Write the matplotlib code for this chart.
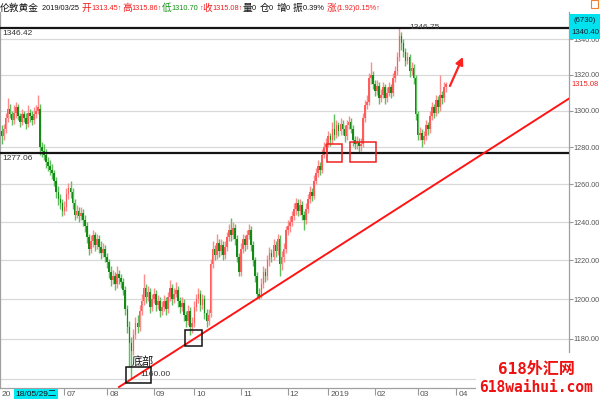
import matplotlib
matplotlib.use("Agg")
import matplotlib.pyplot as plt
from matplotlib.patches import Rectangle
from matplotlib.ticker import FixedLocator, NullLocator, FormatStrFormatter
import numpy as np

# ── Data (daily candles, London gold) ──────────────────────────────────────
opens = [
    1289, 1286, 1290, 1296, 1301, 1298, 1295, 1299, 1302, 1297,
    1294, 1298, 1296, 1293, 1299, 1297, 1295, 1298, 1300, 1301,
    1280, 1278, 1276, 1272, 1270, 1268, 1266, 1262, 1256, 1252,
    1250, 1246, 1248, 1255, 1258, 1256, 1250, 1244, 1246, 1243,
    1245, 1241, 1238, 1232, 1226, 1230, 1233, 1228, 1231, 1227,
    1224, 1226, 1222, 1219, 1214, 1210, 1212, 1208, 1213, 1211,
    1209, 1205, 1195, 1186, 1178, 1174, 1182, 1188, 1186, 1194,
    1199, 1206, 1201, 1204, 1196, 1200, 1203, 1197, 1199, 1194,
    1196, 1199, 1195, 1201, 1206, 1200, 1203, 1205, 1199, 1196,
    1198, 1192, 1189, 1194, 1186, 1188, 1196, 1200, 1203, 1197,
    1200, 1193, 1189, 1193, 1218, 1226, 1223, 1229, 1225, 1228,
    1223, 1227, 1232, 1236, 1233, 1237, 1231, 1222, 1214, 1226,
    1231, 1228, 1233, 1236, 1228, 1220, 1212, 1203, 1201, 1208,
    1214, 1212, 1220, 1224, 1222, 1228, 1225, 1231, 1218, 1222,
    1226, 1236, 1238, 1240, 1243, 1247, 1250, 1246, 1249, 1244,
    1241, 1247, 1252, 1256, 1254, 1262, 1266, 1270, 1268, 1276,
    1280, 1282, 1286, 1284, 1290, 1287, 1292, 1289, 1293, 1290,
    1286, 1292, 1294, 1290, 1284, 1282, 1283, 1281, 1282, 1296,
    1303, 1305, 1318, 1320, 1315, 1311, 1314, 1307, 1309, 1313,
    1307, 1310, 1313, 1310, 1318, 1322, 1330, 1342, 1338, 1333,
    1328, 1330, 1322, 1324, 1318, 1298, 1287, 1288, 1284, 1286,
    1292, 1290, 1297, 1302, 1299, 1306, 1302, 1309, 1307, 1313.45,
]
highs = [
    1292, 1293, 1299, 1307, 1304, 1300, 1303, 1305, 1304, 1299,
    1301, 1300, 1299, 1303, 1301, 1300, 1302, 1303, 1309, 1304,
    1283, 1282, 1279, 1275, 1273, 1271, 1268, 1264, 1259, 1255,
    1252, 1251, 1258, 1261, 1262, 1258, 1252, 1249, 1248, 1248,
    1247, 1244, 1240, 1234, 1233, 1236, 1235, 1234, 1233, 1230,
    1229, 1228, 1224, 1221, 1217, 1215, 1214, 1217, 1215, 1213,
    1211, 1207, 1197, 1189, 1181, 1185, 1191, 1192, 1197, 1203,
    1213, 1208, 1207, 1206, 1203, 1206, 1205, 1202, 1201, 1199,
    1202, 1201, 1204, 1210, 1208, 1206, 1209, 1207, 1201, 1201,
    1200, 1194, 1197, 1196, 1191, 1199, 1203, 1206, 1205, 1203,
    1202, 1195, 1195, 1221, 1230, 1228, 1234, 1231, 1231, 1230,
    1230, 1235, 1239, 1242, 1240, 1239, 1233, 1224, 1229, 1234,
    1233, 1236, 1239, 1238, 1230, 1222, 1214, 1206, 1211, 1217,
    1216, 1223, 1227, 1226, 1231, 1230, 1234, 1233, 1225, 1229,
    1238, 1241, 1243, 1246, 1250, 1253, 1252, 1252, 1251, 1246,
    1250, 1255, 1259, 1258, 1265, 1269, 1273, 1272, 1279, 1283,
    1285, 1289, 1288, 1294, 1298, 1295, 1294, 1296, 1295, 1292,
    1295, 1297, 1296, 1292, 1286, 1286, 1285, 1285, 1299, 1306,
    1309, 1321, 1327, 1322, 1317, 1317, 1316, 1312, 1316, 1315,
    1313, 1316, 1315, 1321, 1325, 1333, 1346.75, 1344, 1340, 1335,
    1333, 1332, 1327, 1326, 1320, 1300, 1291, 1290, 1289, 1295,
    1294, 1300, 1305, 1304, 1309, 1308, 1320, 1311, 1316, 1315.86,
]
lows = [
    1282, 1284, 1288, 1294, 1296, 1292, 1293, 1296, 1295, 1291,
    1292, 1294, 1290, 1291, 1294, 1292, 1293, 1296, 1298, 1276,
    1275, 1273, 1269, 1267, 1265, 1263, 1259, 1253, 1249, 1247,
    1243, 1244, 1246, 1252, 1253, 1247, 1241, 1242, 1240, 1241,
    1238, 1235, 1229, 1223, 1224, 1227, 1225, 1226, 1224, 1221,
    1222, 1219, 1216, 1211, 1207, 1208, 1205, 1206, 1208, 1206,
    1202, 1192, 1183, 1166, 1160, 1172, 1180, 1183, 1184, 1192,
    1197, 1198, 1199, 1193, 1194, 1198, 1194, 1195, 1191, 1192,
    1194, 1192, 1193, 1199, 1197, 1198, 1201, 1196, 1193, 1194,
    1189, 1186, 1187, 1182, 1183, 1186, 1194, 1198, 1194, 1195,
    1190, 1186, 1187, 1191, 1216, 1220, 1221, 1222, 1223, 1220,
    1221, 1225, 1230, 1230, 1231, 1228, 1219, 1212, 1212, 1224,
    1225, 1226, 1231, 1225, 1217, 1209, 1200.5, 1200, 1200.5, 1206,
    1209, 1210, 1217, 1219, 1220, 1222, 1223, 1212, 1215, 1219,
    1224, 1233, 1235, 1238, 1241, 1244, 1243, 1244, 1241, 1236,
    1239, 1245, 1250, 1251, 1252, 1260, 1264, 1265, 1266, 1274,
    1278, 1280, 1281, 1282, 1284, 1285, 1286, 1287, 1287, 1283,
    1284, 1290, 1288, 1281, 1279, 1279, 1277, 1278, 1280, 1294,
    1301, 1303, 1315, 1312, 1308, 1309, 1304, 1305, 1307, 1304,
    1305, 1308, 1307, 1308, 1316, 1320, 1328, 1334, 1330, 1325,
    1326, 1319, 1320, 1315, 1295, 1284, 1284, 1280, 1282, 1284,
    1287, 1288, 1295, 1296, 1297, 1299, 1300, 1304, 1305, 1310.70,
]
closes = [
    1286, 1290, 1296, 1301, 1298, 1295, 1299, 1302, 1297, 1294,
    1298, 1296, 1293, 1299, 1297, 1295, 1298, 1300, 1302, 1280,
    1278, 1276, 1272, 1270, 1268, 1266, 1262, 1256, 1252, 1250,
    1246, 1248, 1255, 1258, 1256, 1250, 1244, 1246, 1243, 1245,
    1241, 1238, 1232, 1226, 1230, 1233, 1228, 1231, 1227, 1224,
    1226, 1222, 1219, 1214, 1210, 1212, 1208, 1213, 1211, 1209,
    1205, 1195, 1186, 1178, 1174, 1182, 1188, 1186, 1194, 1199,
    1206, 1201, 1204, 1196, 1200, 1203, 1197, 1199, 1194, 1196,
    1199, 1195, 1201, 1206, 1200, 1203, 1205, 1199, 1196, 1198,
    1192, 1189, 1194, 1186, 1188, 1196, 1200, 1203, 1197, 1200,
    1193, 1189, 1192, 1218, 1226, 1223, 1229, 1225, 1228, 1223,
    1227, 1232, 1236, 1233, 1237, 1231, 1222, 1214, 1226, 1231,
    1228, 1233, 1236, 1228, 1220, 1212, 1203, 1201, 1208, 1214,
    1212, 1220, 1224, 1222, 1228, 1225, 1231, 1218, 1222, 1226,
    1236, 1238, 1240, 1243, 1247, 1250, 1246, 1249, 1244, 1241,
    1247, 1252, 1256, 1254, 1262, 1266, 1270, 1268, 1276, 1280,
    1282, 1286, 1284, 1290, 1287, 1292, 1289, 1293, 1290, 1286,
    1292, 1294, 1290, 1284, 1282, 1283, 1281, 1282, 1296, 1303,
    1305, 1318, 1320, 1315, 1311, 1314, 1307, 1309, 1313, 1307,
    1310, 1313, 1310, 1318, 1322, 1330, 1342, 1338, 1333, 1328,
    1330, 1322, 1324, 1318, 1298, 1287, 1288, 1284, 1286, 1292,
    1290, 1297, 1302, 1299, 1306, 1302, 1309, 1307, 1313, 1315.08,
]

# month ticks (candle index of first bar of the month) and their labels
month_idx = [31, 52, 75, 95, 118, 141, 161, 184, 205, 224]
month_lbl = ["07", "08", "09", "10", "11", "12", "2019", "02", "03", "04"]
price_ticks = [1160, 1180, 1200, 1220, 1240, 1260, 1280, 1300, 1320, 1340]

# analyst drawings
levels = [1346.42, 1277.06]
peak_idx, peak_price = 208.4, 1346.75
trend_idx = [57.9, 280.0]
trend_price = [1156.2, 1307.1]
black_boxes = [(61.2, 73.5, 1158.1, 1166.0), (90.4, 98.6, 1176.5, 1184.5)]
red_boxes = [(160.3, 167.7, 1272.1, 1281.8), (171.7, 184.5, 1272.1, 1282.9)]
arrow_from = (220.9, 1313.8)
arrow_to = (227.3, 1330.1)

# header quote line: (text, colour key)
header = [
    ("伦敦黄金 ", "k"), ("2019/03/25 ", "k"),
    ("开1313.45↑", "r"), ("高1315.86↑", "r"),
    ("低1310.70", "g"), ("↑", "r"), ("收1315.08↑", "r"),
    ("量0 ", "k"), ("仓0 ", "k"), ("增0 ", "k"), ("振0.39% ", "k"),
    ("涨(1.92)0.15%↑", "r"),
]

# ── Figure ─────────────────────────────────────────────────────────────────
W, H = 600, 400
fig = plt.figure(figsize=(6, 4), dpi=100)
fig.patch.set_facecolor("white")

def fx(px):
    return px / W

def fy(py):
    return 1 - py / H

ax = fig.add_axes([0, fy(388), fx(569), fy(12) - fy(388)])
ax.set_yscale("log")
ax.set_ylim(1155.7, 1355.7)
ax.set_xlim(-0.74, 279.56)

NUM = ["Liberation Sans", "DejaVu Sans", "Noto Sans CJK SC"]
CJK = ["Noto Sans CJK SC", "DejaVu Sans"]
GREY = "#555555"
RED = "#f01e1e"
COLS = {"k": "#111111", "r": RED, "g": "#159015"}

o = np.array(opens, float)
h = np.array(highs, float)
l = np.array(lows, float)
c = np.array(closes, float)
x = np.arange(len(c))
up = c >= o
body_col = np.where(up, "#ff5c5c", "#168a16")
wick_col = np.where(up, "#ff8c8c", "#5fbf5f")

ax.vlines(x, l, h, colors=wick_col, lw=1.0, zorder=2)
ax.bar(x, np.maximum(np.abs(c - o), 0.6), bottom=np.minimum(o, c),
       width=0.82, color=body_col, linewidth=0, zorder=3)

# grid + axes styling
ax.yaxis.set_major_locator(FixedLocator(price_ticks))
ax.yaxis.set_minor_locator(NullLocator())
ax.yaxis.set_major_formatter(FormatStrFormatter("%.2f"))
ax.yaxis.tick_right()
ax.tick_params(axis="y", direction="out", length=3, width=0.8, color="#999999",
               labelsize=5.2, labelcolor=GREY, pad=0.5)
for t in ax.get_yticklabels():
    t.set_family(NUM)
ax.grid(axis="y", color="#d9d9d9", lw=0.9)
ax.set_axisbelow(True)

ax.set_xticks(month_idx)
ax.set_xticklabels([])
ax.tick_params(axis="x", direction="out", length=5, width=0.8, color="#999999")
for xi, lab in zip(month_idx, month_lbl):
    ax.annotate(lab, xy=(xi, 0), xycoords=("data", "axes fraction"),
                xytext=(1.5, -2), textcoords="offset points", ha="left", va="top",
                fontsize=6, color=GREY, family=NUM)
ax.annotate("20", xy=(0, 0), xycoords="axes fraction", xytext=(1.5, -2),
            textcoords="offset points", ha="left", va="top",
            fontsize=6, color=GREY, family=NUM)

for side in ["left", "bottom", "right"]:
    ax.spines[side].set_color("#a0a0a0")
    ax.spines[side].set_linewidth(0.9)
ax.spines["top"].set_visible(False)

# horizontal levels
for lv in levels:
    ax.axhline(lv, color="#151515", lw=1.6, zorder=4)
    ax.annotate(f"{lv:.2f}", xy=(0, lv), xycoords=("axes fraction", "data"),
                xytext=(1.5, -1.5), textcoords="offset points", ha="left", va="top",
                fontsize=6, color="#333333", family=NUM)
ax.text(peak_idx, peak_price, f"{peak_price:.2f}", ha="center", va="center",
        fontsize=6, color="#444444", family=NUM, zorder=5)

# trend line, boxes, arrow
ax.plot(trend_idx, trend_price, color="#ff1414", lw=1.4, zorder=5)
for x0, x1, y0, y1 in black_boxes:
    ax.add_patch(Rectangle((x0, y0), x1 - x0, y1 - y0, fill=False,
                           ec="#111111", lw=1.1, zorder=6))
for x0, x1, y0, y1 in red_boxes:
    ax.add_patch(Rectangle((x0, y0), x1 - x0, y1 - y0, fill=False,
                           ec="#f02020", lw=1.1, zorder=6))
ax.annotate("", xy=arrow_to, xytext=arrow_from,
            arrowprops=dict(arrowstyle="-|>", color="#ff2020", lw=1.6,
                            mutation_scale=11, shrinkA=0, shrinkB=0), zorder=6)

ax.text(69.7, 1169.0, "底部", ha="center", va="center", fontsize=8,
        family=CJK, color="#111111", zorder=7)
ax.text(75.6, 1162.1, "1160.00", ha="center", va="center", fontsize=6,
        family=NUM, color="#333333", zorder=7)

# ── right side labels ──────────────────────────────────────────────────────
fig.patches.append(Rectangle((fx(570), fy(39)), fx(600) - fx(570), fy(14) - fy(39),
                             transform=fig.transFigure, fc="#00e3ef", ec="none", zorder=10))
fig.text(fx(585), fy(20), "(6730)", ha="center", va="center", fontsize=5.6,
         family=NUM, color="#102030", zorder=11)
fig.text(fx(585), fy(33), "1340.40", ha="center", va="center", fontsize=5.6,
         family=NUM, color="#102030", zorder=11)
fig.text(fx(571), fy(84), f"{closes[-1]:.2f}", ha="left", va="center", fontsize=5.4,
         family=NUM, color=RED, zorder=11)
fig.patches.append(Rectangle((fx(591), fy(8)), fx(7), fy(0) - fy(8),
                             transform=fig.transFigure, fill=False, ec="#f08030",
                             lw=0.8, zorder=10))

# cursor date label
fig.text(fx(15), fy(394), "18/05/29二", ha="left", va="center", fontsize=6,
         family=NUM, color="#101010", zorder=11,
         bbox=dict(boxstyle="square,pad=0.15", fc="#00e8f4", ec="none"))

# ── header ─────────────────────────────────────────────────────────────────
renderer = fig.canvas.get_renderer()

def is_cjk(ch):
    return ord(ch) > 0x2E80

xp = 0.0
for s, key in header:
    runs = []
    for ch in s:
        if runs and is_cjk(ch) == runs[-1][1]:
            runs[-1][0] += ch
        else:
            runs.append([ch, is_cjk(ch)])
    for run, cj in runs:
        t = fig.text(fx(xp), fy(8), run, ha="left", va="center",
                     fontsize=7.0 if cj else 5.3, family=CJK if cj else NUM,
                     color=COLS[key], zorder=11)
        w = t.get_window_extent(renderer).width
        if run.endswith(" "):
            w += 1.0
        xp += w

# ── watermark ──────────────────────────────────────────────────────────────
fig.patches.append(Rectangle((fx(476), 0), fx(600) - fx(476), fy(353),
                             transform=fig.transFigure, fc="white", ec="none", zorder=10))
fig.text(fx(536), fy(369), "618外汇网", ha="center", va="center", fontsize=11.5,
         family=["DejaVu Sans Mono", "Noto Sans CJK SC"], weight="bold",
         color="#ee1111", zorder=11)
fig.text(fx(536), fy(387), "618waihui.com", ha="center", va="center", fontsize=10.5,
         family=["DejaVu Sans Mono", "Noto Sans CJK SC"], weight="bold",
         color="#ee1111", zorder=11)

fig.savefig("out.png", dpi=100)
